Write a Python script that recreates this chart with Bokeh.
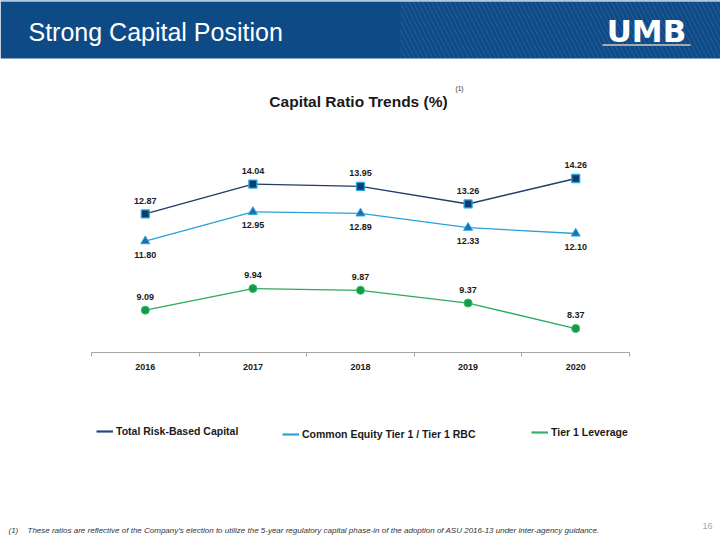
from bokeh.plotting import figure
from bokeh.layouts import column
from bokeh.models import Range1d, FixedTicker, Legend, LegendItem, ColumnDataSource
from bokeh.core.properties import value
from bokeh.embed import file_html
from bokeh.resources import INLINE

# ---- data ----
years = [2016, 2017, 2018, 2019, 2020]
total_rbc = [12.87, 14.04, 13.95, 13.26, 14.26]
cet1 = [11.80, 12.95, 12.89, 12.33, 12.10]
tier1_leverage = [9.09, 9.94, 9.87, 9.37, 8.37]
series_names = ["Total Risk-Based Capital", "Common Equity Tier 1 / Tier 1 RBC", "Tier 1 Leverage"]
series_colors = ["#1f4e79", "#2aa3d8", "#2db36a"]

page_title = "Strong Capital Position"
chart_title = "Capital Ratio Trends (%)"
footnote = ("These ratios are reflective of the Company\u2019s election to utilize the 5-year regulatory "
            "capital phase-in of the adoption of ASU 2016-13 under inter-agency guidance.")
page_number = "16"

W = 720
TOP_H, CHART_H, BOT_H = 140, 240, 160
AXIS_LEFT, AXIS_RIGHT = 91, 629  # pixel extent of the category axis


def blank(height):
    f = figure(width=W, height=height, output_backend="svg", toolbar_location=None,
               x_range=Range1d(0, W), y_range=Range1d(height, 0),
               x_axis_location=None, y_axis_location=None,
               min_border_left=0, min_border_right=0, min_border_top=0, min_border_bottom=0)
    f.outline_line_color = None
    f.xgrid.grid_line_color = None
    f.ygrid.grid_line_color = None
    f.background_fill_color = "white"
    f.border_fill_color = "white"
    return f


# ---- top: header band + chart title ----
top = blank(TOP_H)
top.quad(left=0, right=W, top=0, bottom=58, fill_color="#0e4a86", line_color=None)
top.quad(left=0, right=W, top=0, bottom=1.5, fill_color="#7fb2dd", line_color=None)
top.quad(left=400, right=W, top=1.5, bottom=58, fill_alpha=0.0, line_color=None,
         hatch_pattern="left_diagonal_line", hatch_color="#6a9bd0", hatch_alpha=0.25,
         hatch_scale=9, hatch_weight=1)
top.text(x=[28], y=[31], text=[page_title], text_font=value("Liberation Sans"),
         text_font_size="25px", text_color="white", text_baseline="middle")
top.text(x=[646], y=[30.5], text=["UMB"], text_font=value("DejaVu Sans"), text_font_style="bold",
         text_font_size="31px", text_color="white", text_align="center", text_baseline="middle")
top.quad(left=602, right=690, top=43.5, bottom=45.5, fill_color="#a7a9ac", line_color=None)
top.text(x=[358], y=[101], text=[chart_title], text_font=value("Liberation Sans"),
         text_font_style="bold", text_font_size="15.5px", text_color="#1a1a1a",
         text_align="center", text_baseline="middle")
top.text(x=[459], y=[88], text=["(1)"], text_font=value("Liberation Sans"),
         text_font_size="6.5px", text_color="#1a1a1a", text_align="center", text_baseline="middle")

# ---- chart ----
px_per_year = (AXIS_RIGHT - AXIS_LEFT) / len(years)
x0 = years[0] - 0.5 - AXIS_LEFT / px_per_year
x1 = years[-1] + 0.5 + (W - AXIS_RIGHT) / px_per_year

p = figure(width=W, height=CHART_H, output_backend="svg", toolbar_location=None,
           x_range=Range1d(x0, x1),
           y_range=Range1d(7.428, 15.752),
           y_axis_location=None,
           min_border_left=0, min_border_right=0, min_border_top=0, min_border_bottom=28)
p.outline_line_color = None
p.xgrid.grid_line_color = None
p.ygrid.grid_line_color = None
p.background_fill_color = "white"
p.border_fill_color = "white"

ax = p.xaxis[0]
ax.bounds = (years[0] - 0.5, years[-1] + 0.5)
ax.ticker = FixedTicker(ticks=years, minor_ticks=[y - 0.5 for y in years] + [years[-1] + 0.5])
ax.axis_line_color = "#a6a6a6"
ax.axis_line_width = 1.2
ax.major_tick_line_color = None
ax.major_tick_out = 0
ax.major_tick_in = 0
ax.minor_tick_line_color = "#a6a6a6"
ax.minor_tick_out = 4
ax.minor_tick_in = 0
ax.major_label_standoff = 7
ax.major_label_text_font = "Liberation Sans"
ax.major_label_text_font_style = "bold"
ax.major_label_text_font_size = "9px"
ax.major_label_text_color = "#1a1a1a"

src = ColumnDataSource(dict(x=years, a=total_rbc, b=cet1, c=tier1_leverage,
                            la=["%.2f" % v for v in total_rbc],
                            lb=["%.2f" % v for v in cet1],
                            lc=["%.2f" % v for v in tier1_leverage]))

p.line("x", "a", source=src, line_color="#1f3d66", line_width=1.4)
p.scatter("x", "a", source=src, marker="square", size=8, fill_color="#0d3c6e",
          line_color="#2aa8e0", line_width=1.3)
p.line("x", "b", source=src, line_color="#2ca1d9", line_width=1.3)
p.scatter("x", "b", source=src, marker="triangle", size=9, fill_color="#1f6fb0",
          line_color="#2aa8e0", line_width=1.0)
p.line("x", "c", source=src, line_color="#2eaa5e", line_width=1.3)
p.scatter("x", "c", source=src, marker="circle", size=8, fill_color="#169a4a",
          line_color="#2bbf6a", line_width=1.0)

lab = dict(source=src, text_font=value("Liberation Sans"), text_font_style="bold",
           text_font_size="9px", text_color="#1a1a1a", text_align="center",
           text_baseline="middle")
p.text("x", "a", text="la", y_offset=-13, **lab)
p.text("x", "b", text="lb", y_offset=13.5, **lab)
p.text("x", "c", text="lc", y_offset=-13.5, **lab)

# ---- bottom: legend + footnote ----
bot = blank(BOT_H)
nan = float("nan")
for name, color, vx, vy in [(series_names[0], series_colors[0], 96, 103.5),
                            (series_names[1], series_colors[1], 282, 100.5),
                            (series_names[2], series_colors[2], 531, 102.5)]:
    proxy = bot.line(x=[nan, nan], y=[nan, nan], line_color=color, line_width=2.2)
    lg = Legend(items=[LegendItem(label=name, renderers=[proxy])], location=(vx, vy),
                orientation="horizontal", padding=0, margin=0, spacing=0,
                glyph_width=17, glyph_height=12, label_height=12, label_standoff=3,
                border_line_color=None, background_fill_alpha=0.0,
                label_text_font="Liberation Sans", label_text_font_style="bold",
                label_text_font_size="10.5px", label_text_color="#1a1a1a")
    bot.add_layout(lg)

foot = dict(text_font=value("Liberation Sans"), text_font_style="italic",
            text_font_size="8px", text_color="#333333", text_baseline="middle")
bot.text(x=[8], y=[150], text=["(1)"], **foot)
bot.text(x=[27], y=[150], text=[footnote], **foot)
bot.text(x=[702], y=[145], text=[page_number], text_font=value("Liberation Sans"),
         text_font_size="9px", text_color="#a6a6a6", text_baseline="middle")

layout = column(top, p, bot, spacing=0)
open("out.html", "w").write(file_html(layout, INLINE))
